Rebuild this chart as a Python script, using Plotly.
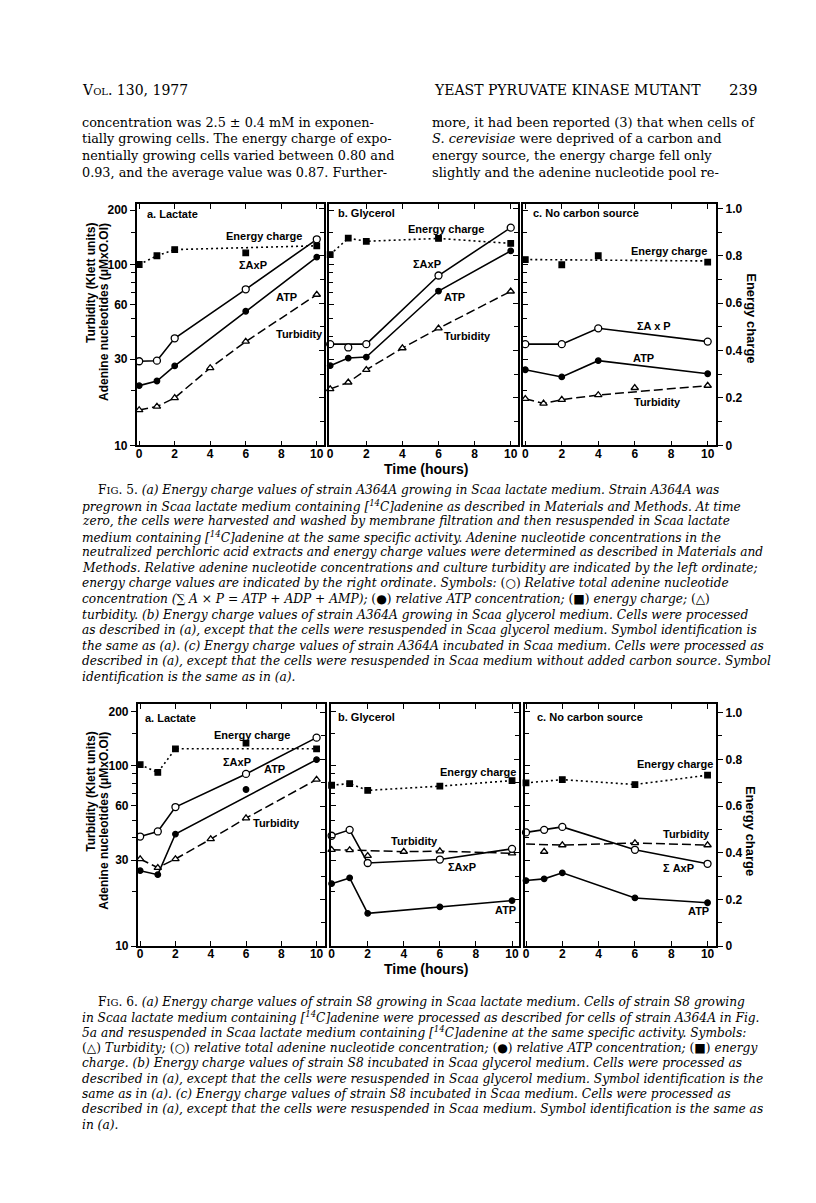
import plotly.graph_objects as go

W, H = 816, 1203

# ---------------- data ----------------
# Fig. 5  strain A364A   (values: adenine nucleotides / turbidity on log axis, energy charge on right axis)
f5a_t = [0, 1, 2, 6, 10]
f5a_sum = [29.2, 29.4, 39.1, 73, 138]
f5a_atp = [21.4, 22.7, 27.5, 55.2, 110]
f5a_ec = [0.763, 0.80, 0.826, 0.812, 0.842]
f5a_ec_line = [0.763, 0.80, 0.826, None, 0.842]
f5a_turb_t = [0, 1, 2, 4, 6, 10]
f5a_turb = [15.7, 16.4, 18.3, 26.8, 37.5, 68.2]

f5b_t = [0, 1, 2, 6, 10]
f5b_sum = [36.3, 34.8, 36.3, 87, 160]
f5b_sum_line = [36.3, None, 36.3, 87, 160]
f5b_atp = [27.6, 30.4, 30.8, 71.4, 119]
f5b_ec = [0.805, 0.874, 0.861, 0.873, 0.852]
f5b_turb_t = [0, 1, 2, 4, 6, 10]
f5b_turb = [20.5, 22.3, 26.2, 34.5, 44.4, 71.1]

f5c_t = [0, 2, 4, 10]
f5c_sum = [36.3, 36.3, 44.4, 37.5]
f5c_atp = [26.2, 23.9, 29.4, 24.9]
f5c_ec = [0.784, 0.762, 0.80, 0.773]
f5c_ec_line = [0.784, None, None, 0.778]
f5c_turb_t = [0, 1, 2, 4, 6, 10]
f5c_turb = [18.1, 17.06, 17.9, 19.0, 20.8, 21.4]
f5c_turb_line = [18.1, 17.06, 17.9, 19.0, None, 21.4]

# Fig. 6  strain S8
f6a_t = [0, 1, 2, 6, 10]
f6a_sum = [40.5, 43.2, 59, 90, 143]
f6a_atp = [26.2, 24.9, 41.8, 73.8, 108]
f6a_atp_line = [26.2, 24.9, 41.8, None, 108]
f6a_ec = [0.777, 0.744, 0.845, 0.869, 0.845]
f6a_ec_line = [0.777, 0.744, 0.845, None, 0.845]
f6a_turb_t = [0, 1, 2, 4, 6, 10]
f6a_turb = [30.4, 27.2, 30.4, 39.2, 51.2, 83.8]

f6b_t = [0, 1, 2, 6, 10]
f6b_sum = [40.9, 44.1, 28.9, 30.2, 34.6]
f6b_atp = [22.2, 23.9, 15.2, 16.5, 17.9]
f6b_ec = [0.689, 0.696, 0.667, 0.685, 0.709]
f6b_turb_t = [0, 1, 2, 4, 6, 10]
f6b_turb = [34.2, 34.1, 31.7, 33.4, 33.6, 32.7]
f6b_turb_line = [34.2, 34.1, None, 33.4, 33.6, 32.7]

f6c_t = [0, 1, 2, 6, 10]
f6c_sum = [42.7, 44.1, 45.8, 34.2, 28.6]
f6c_atp = [23.1, 23.6, 25.5, 18.5, 17.4]
f6c_ec_t = [0, 2, 6, 10]
f6c_ec = [0.699, 0.713, 0.692, 0.732]
f6c_turb_t = [0, 1, 2, 6, 10]
f6c_turb = [None, 33.4, 36.3, 37.3, 36.3]
f6c_turb_line = [36.8, None, 36.3, 37.3, 36.3]

x_ticks = [0, 2, 4, 6, 8, 10]
log_ticks = [10, 30, 60, 100, 200]
log_minor = [20, 40, 50, 70, 80, 90, 150]
ec_ticks = [0, 0.2, 0.4, 0.6, 0.8, 1.0]
ec_labels = ["0", "0.2", "0.4", "0.6", "0.8", "1.0"]
ec_minor = [0.1, 0.3, 0.5, 0.7, 0.9]

# ---------------- layout helpers ----------------
def px(x):
    return x / W

def py(y):
    return 1 - y / H

SANS = "Liberation Sans"
SERIF = "DejaVu Serif"
BOLD = dict(family=SANS, size=12, color="black", weight="bold")

fig = go.Figure()
layout = dict(width=W, height=H, margin=dict(l=0, r=0, t=0, b=0),
              paper_bgcolor="white", plot_bgcolor="rgba(0,0,0,0)",
              showlegend=False, annotations=[])

# panel geometry (pixels)
figs = {
    5: dict(ytop=195, ybot=438, logtop=2.333, ectop=1.0167,
            xs=[(127, 315, -0.14, 10.42), (320, 509, -0.055, 10.39), (514, 708, -0.14, 10.47)]),
    6: dict(ytop=699, ybot=943, logtop=2.3407, ectop=1.036,
            xs=[(128, 316, -0.14, 10.49), (321.5, 510.5, -0.05, 10.4), (516, 708, -0.07, 10.48)]),
}

panels = [
    (5, 0, dict(sum=(f5a_t, f5a_sum, None), atp=(f5a_t, f5a_atp, None),
                ec=(f5a_t, f5a_ec, f5a_ec_line), turb=(f5a_turb_t, f5a_turb, None))),
    (5, 1, dict(sum=(f5b_t, f5b_sum, f5b_sum_line), atp=(f5b_t, f5b_atp, None),
                ec=(f5b_t, f5b_ec, None), turb=(f5b_turb_t, f5b_turb, None))),
    (5, 2, dict(sum=(f5c_t, f5c_sum, None), atp=(f5c_t, f5c_atp, None),
                ec=(f5c_t, f5c_ec, f5c_ec_line), turb=(f5c_turb_t, f5c_turb, f5c_turb_line))),
    (6, 0, dict(sum=(f6a_t, f6a_sum, None), atp=(f6a_t, f6a_atp, f6a_atp_line),
                ec=(f6a_t, f6a_ec, f6a_ec_line), turb=(f6a_turb_t, f6a_turb, None))),
    (6, 1, dict(sum=(f6b_t, f6b_sum, None), atp=(f6b_t, f6b_atp, None),
                ec=(f6b_t, f6b_ec, None), turb=(f6b_turb_t, f6b_turb, f6b_turb_line))),
    (6, 2, dict(sum=(f6c_t, f6c_sum, None), atp=(f6c_t, f6c_atp, None),
                ec=(f6c_ec_t, f6c_ec, None), turb=(f6c_turb_t, f6c_turb, f6c_turb_line))),
]

styles = {
    "sum": dict(dash="solid", width=1.6, symbol="circle", fill="white", size=7),
    "atp": dict(dash="solid", width=1.6, symbol="circle", fill="black", size=5.5),
    "turb": dict(dash="9px,4px", width=1.5, symbol="triangle-up", fill="white", size=6.5),
    "ec": dict(dash="2px,3px", width=1.6, symbol="square", fill="black", size=5.5),
}

TICK = dict(ticklen=5, tickwidth=1.3, tickcolor="black")

for k, (fn, pi, series) in enumerate(panels):
    g = figs[fn]
    x0, x1, r0, r1 = g["xs"][pi]
    n = k + 1
    ln = k + 1          # log y axis index
    en = k + 7          # energy-charge y axis index
    xname = "xaxis" if n == 1 else f"xaxis{n}"
    xref = "x" if n == 1 else f"x{n}"
    lyname = "yaxis" if ln == 1 else f"yaxis{ln}"
    lyref = "y" if ln == 1 else f"y{ln}"
    eyname = f"yaxis{en}"
    eyref = f"y{en}"
    ydom = [py(g["ybot"]), py(g["ytop"])]
    layout[xname] = dict(domain=[px(x0), px(x1)], range=[r0, r1], anchor=lyref,
                         showline=True, linecolor="black", linewidth=1.6, mirror="ticks",
                         ticks="inside", **TICK, ticklabelstandoff=-4,
                         tickvals=x_ticks, ticktext=[str(v) for v in x_ticks],
                         tickfont=BOLD, showgrid=False, zeroline=False, fixedrange=True)
    first = (pi == 0)
    tdir = "outside" if first else "inside"
    layout[lyname] = dict(domain=ydom, type="log", range=[1, g["logtop"]], anchor=xref,
                          side="left", showline=True, linecolor="black", linewidth=1.6,
                          ticks=tdir, **TICK, tickvals=log_ticks,
                          ticktext=[str(v) for v in log_ticks],
                          minor=dict(tickvals=log_minor, ticks=tdir, ticklen=4,
                                     tickwidth=1.2, tickcolor="black", showgrid=False),
                          showticklabels=first, tickfont=BOLD, showgrid=False,
                          zeroline=False, fixedrange=True)
    last = (pi == 2)
    edir = "outside" if last else "inside"
    layout[eyname] = dict(domain=ydom, range=[0, g["ectop"]], anchor=xref, overlaying=lyref,
                          side="right", showline=True, linecolor="black", linewidth=1.6,
                          ticks=edir, **TICK, tickvals=ec_ticks, ticktext=ec_labels,
                          minor=dict(tickvals=ec_minor, ticks=edir, ticklen=4,
                                     tickwidth=1.2, tickcolor="black", showgrid=False),
                          showticklabels=last, tickfont=BOLD,
                          showgrid=False, zeroline=False, fixedrange=True)
    for key in ["turb", "sum", "atp", "ec"]:
        t, vals, line_vals = series[key]
        st = styles[key]
        yref = eyref if key == "ec" else lyref
        lv = vals if line_vals is None else line_vals
        fig.add_trace(go.Scatter(x=t, y=lv, xaxis=xref, yaxis=yref, mode="lines",
                                 connectgaps=True, hoverinfo="skip",
                                 line=dict(color="black", width=st["width"], dash=st["dash"])))
        fig.add_trace(go.Scatter(x=t, y=vals, xaxis=xref, yaxis=yref, mode="markers",
                                 cliponaxis=False, hoverinfo="skip",
                                 marker=dict(symbol=st["symbol"], size=st["size"], color=st["fill"],
                                             line=dict(color="black", width=1.3))))

ann = layout["annotations"]

def text(x, y, s, size=12, family=SANS, weight="bold", xanchor="left", yanchor="middle",
         angle=0, style="normal"):
    ann.append(dict(x=px(x), y=py(y), xref="paper", yref="paper", text=s, showarrow=False,
                    xanchor=xanchor, yanchor=yanchor, textangle=angle,
                    font=dict(family=family, size=size, color="black", weight=weight, style=style)))

# panel titles and curve labels
labels = [
    # fig 5
    (135, 205, "a. Lactate"), (327, 204, "b. Glycerol"), (522, 204, "c. No carbon source"),
    (215, 227, "Energy charge"), (228, 256, "ΣAxP"), (265, 288, "ATP"), (265, 326, "Turbidity"),
    (397, 220, "Energy charge"), (402, 255, "ΣAxP"), (433, 288, "ATP"), (433, 328, "Turbidity"),
    (621, 242, "Energy charge"), (627, 318, "ΣA x P"), (623, 350, "ATP"), (624, 394, "Turbidity"),
    # fig 6
    (133, 713, "a. Lactate"), (327, 712, "b. Glycerol"), (526, 712, "c. No carbon source"),
    (202, 730, "Energy charge"), (212, 757, "ΣAxP"), (253, 764, "ATP"), (242, 819, "Turbidity"),
    (429, 767, "Energy charge"), (380, 837, "Turbidity"), (437, 863, "ΣAxP"), (484, 907, "ATP"),
    (627, 759, "Energy charge"), (653, 830, "Turbidity"), (653, 864, "Σ AxP"), (678, 908, "ATP"),
]
for x, y, s in labels:
    text(x, y, s, size=11)

# axis titles
for (xt, yt, ec_y) in [(462, 212, 310), (966, 725, 827)]:
    text(418, xt, "Time (hours)", size=14, xanchor="center")
    text(81, yt, "Turbidity (Klett units)", size=12, xanchor="center", yanchor="top", angle=-90)
    text(94, yt, "Adenine nucleotides (μMxO.OI)", size=12, xanchor="center", yanchor="top", angle=-90)
    text(743, ec_y, "Energy charge", size=13, xanchor="center", angle=90)

# page header & body
text(70, 80, "V<span style='font-size:10px'>OL</span>. 130, 1977", size=14, family=SERIF, weight="normal")
text(695, 80, "YEAST PYRUVATE KINASE MUTANT", size=14, family=SERIF, weight="normal", xanchor="right")
text(752, 80, "239", size=15, family=SERIF, weight="normal", xanchor="right")

left_col = ["concentration was 2.5 ± 0.4 mM in exponen-",
            "tially growing cells. The energy charge of expo-",
            "nentially growing cells varied between 0.80 and",
            "0.93, and the average value was 0.87. Further-"]
right_col = ["more, it had been reported (3) that when cells of",
             "<i>S. cerevisiae</i> were deprived of a carbon and",
             "energy source, the energy charge fell only",
             "slightly and the adenine nucleotide pool re-"]
for i, s in enumerate(left_col):
    text(70, 112 + 17 * i, s, size=12.8, family=SERIF, weight="normal")
for i, s in enumerate(right_col):
    text(421, 112 + 17 * i, s, size=13, family=SERIF, weight="normal")

SC = "<span style='font-size:10px'>IG</span>"
cap5 = [
    f"F{SC}. 5. <i>(a) Energy charge values of strain A364A growing in Scaa lactate medium. Strain A364A was</i>",
    "<i>pregrown in Scaa lactate medium containing [<sup>14</sup>C]adenine as described in Materials and Methods. At time</i>",
    "<i>zero, the cells were harvested and washed by membrane filtration and then resuspended in Scaa lactate</i>",
    "<i>medium containing [<sup>14</sup>C]adenine at the same specific activity. Adenine nucleotide concentrations in the</i>",
    "<i>neutralized perchloric acid extracts and energy charge values were determined as described in Materials and</i>",
    "<i>Methods. Relative adenine nucleotide concentrations and culture turbidity are indicated by the left ordinate;</i>",
    "<i>energy charge values are indicated by the right ordinate. Symbols:</i> (○) <i>Relative total adenine nucleotide</i>",
    "<i>concentration (∑ A × P = ATP + ADP + AMP);</i> (●) <i>relative ATP concentration;</i> (■) <i>energy charge;</i> (△)",
    "<i>turbidity. (b) Energy charge values of strain A364A growing in Scaa glycerol medium. Cells were processed</i>",
    "<i>as described in (a), except that the cells were resuspended in Scaa glycerol medium. Symbol identification is</i>",
    "<i>the same as (a). (c) Energy charge values of strain A364A incubated in Scaa medium. Cells were processed as</i>",
    "<i>described in (a), except that the cells were resuspended in Scaa medium without added carbon source. Symbol</i>",
    "<i>identification is the same as in (a).</i>",
]
cap6 = [
    f"F{SC}. 6. <i>(a) Energy charge values of strain S8 growing in Scaa lactate medium. Cells of strain S8 growing</i>",
    "<i>in Scaa lactate medium containing [<sup>14</sup>C]adenine were processed as described for cells of strain A364A in Fig.</i>",
    "<i>5a and resuspended in Scaa lactate medium containing [<sup>14</sup>C]adenine at the same specific activity. Symbols:</i>",
    "(△) <i>Turbidity;</i> (○) <i>relative total adenine nucleotide concentration;</i> (●) <i>relative ATP concentration;</i> (■) <i>energy</i>",
    "<i>charge. (b) Energy charge values of strain S8 incubated in Scaa glycerol medium. Cells were processed as</i>",
    "<i>described in (a), except that the cells were resuspended in Scaa glycerol medium. Symbol identification is the</i>",
    "<i>same as in (a). (c) Energy charge values of strain S8 incubated in Scaa medium. Cells were processed as</i>",
    "<i>described in (a), except that the cells were resuspended in Scaa medium. Symbol identification is the same as</i>",
    "<i>in (a).</i>",
]
for i, s in enumerate(cap5):
    text(86 if i == 0 else 70, 483 + 15.7 * i, s, size=12.2, family=SERIF, weight="normal")
for i, s in enumerate(cap6):
    text(86 if i == 0 else 70, 999 + 15.5 * i, s, size=12.2, family=SERIF, weight="normal")

fig.update_layout(**layout)
fig.write_html("out.html")
